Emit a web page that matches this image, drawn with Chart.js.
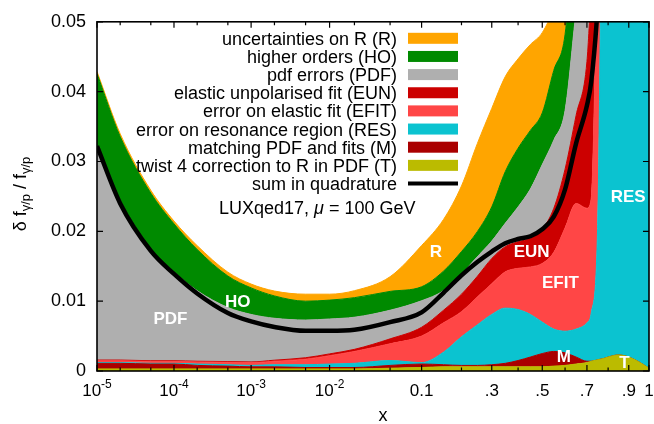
<!DOCTYPE html>
<html lang="en">
<head>
<meta charset="UTF-8">
<title>LUXqed17 photon PDF uncertainties</title>
<script src="https://cdn.jsdelivr.net/npm/chart.js"></script>
<style>
    html, body { margin: 0; padding: 0; background: #fff; }
    #wrap { position: relative; width: 654px; height: 424px; }
</style>
</head>
<body>
<div id="wrap"><canvas id="chart"></canvas></div>
<script>
// x positions of the samples (momentum fraction)
const xValues = [1e-5, 2e-5, 5e-5, 1e-4, 2e-4, 5e-4, 1e-3, 2e-3, 5e-3, 0.01, 0.02, 0.05,
    0.1, 0.15, 0.2, 0.25, 0.3, 0.35, 0.4, 0.45, 0.5, 0.55, 0.6, 0.65, 0.7, 0.72, 0.75,
    0.78, 0.8, 0.85, 0.9, 0.95, 1];

// stacked contributions, bottom to top
const twist4 = [0.0003, 0.0003, 0.0003, 0.0003, 0.0003, 0.0003, 0.0003, 0.0003, 0.0003, 0.0003, 0.0003, 0.0004,
    0.0005, 0.0006, 0.0006, 0.0006, 0.0006, 0.0006, 0.0006, 0.0006, 0.0006, 0.0007, 0.0008, 0.0010, 0.0012, 0.0014, 0.0016,
    0.0018, 0.0020, 0.0023, 0.0020, 0.0013, 0.0004];
const matching = [0.0008, 0.0008, 0.0007, 0.0007, 0.0005, 0.0004, 0.0003, 0.0003, 0.0002, 0.0002, 0.0002, 0.0004,
    0.0005, 0.0003, 0.0002, 0.0002, 0.0003, 0.0005, 0.0009, 0.0014, 0.0019, 0.0021, 0.0018, 0.0010, 0.0002, 0, 0,
    0, 0, 0, 0, 0, 0];
const resonance = [0.0001, 0.0001, 0.0001, 0.0001, 0.0002, 0.0002, 0.0002, 0.0003, 0.0004, 0.0005, 0.0006, 0.0007,
    0.0002, 0.0018, 0.0041, 0.0058, 0.0072, 0.0079, 0.0073, 0.0061, 0.0045, 0.0032, 0.0031, 0.0040, 0.0055, 0.0069, 0.0188,
    0.08, 0.08, 0.08, 0.08, 0.08, 0.08];
const elasticFit = [0.00027, 0.00027, 0.00027, 0.00027, 0.0003, 0.00035, 0.0004, 0.0005, 0.0008, 0.0012, 0.0017, 0.0024,
    0.0038, 0.0042, 0.0036, 0.0040, 0.0044, 0.0052, 0.0059, 0.0068, 0.0084, 0.0110, 0.0148, 0.0180, 0.0164, 0.0164, 0.04,
    0.01, 0.01, 0.01, 0.01, 0.01, 0.01];
const elasticUnpol = [0.0001, 0.0001, 0.0001, 0.0001, 0.0001, 0.0001, 0.0001, 0.00015, 0.0002, 0.00025, 0.0003, 0.0007,
    0.00126, 0.0018, 0.0025, 0.00295, 0.0036, 0.0036, 0.0038, 0.0041, 0.0049, 0.0063, 0.0084, 0.0126, 0.0210, 0.0300, 0.01,
    0.01, 0.01, 0.01, 0.01, 0.01, 0.01];
const pdfErrors = [0.0306, 0.0228, 0.0160, 0.0127, 0.0101, 0.00775, 0.0068, 0.0060, 0.0054, 0.0050, 0.0046, 0.0041,
    0.0038, 0.0028, 0.0029, 0.0028, 0.0025, 0.00335, 0.0050, 0.00705, 0.00925, 0.00975, 0.0084, 0.015, 0.02, 0.02, 0.01,
    0.01, 0.01, 0.01, 0.01, 0.01, 0.01];
const higherOrders = [0.0104, 0.0092, 0.0080, 0.0069, 0.0059, 0.0045, 0.0038, 0.0032, 0.0027, 0.0027, 0.0028, 0.0027,
    0.0020, 0.0028, 0.0032, 0.0036, 0.0049, 0.0074, 0.0084, 0.0084, 0.0074, 0.0100, 0.0109, 0.015, 0.02, 0.02, 0.01,
    0.01, 0.01, 0.01, 0.01, 0.01, 0.01];
const rUncert = [0.0003, 0.0004, 0.0004, 0.0004, 0.00055, 0.00055, 0.00055, 0.0007, 0.0010, 0.00085, 0.0010, 0.0021,
    0.0059, 0.0074, 0.0094, 0.0126, 0.0141, 0.0136, 0.0128, 0.0123, 0.0115, 0.0090, 0.01, 0.01, 0.01, 0.01, 0.01,
    0.01, 0.01, 0.01, 0.01, 0.01, 0.01];
// total, summed in quadrature (not stacked)
const quadSum = [0.0322, 0.0240, 0.0172, 0.0139, 0.0111, 0.0083, 0.0071, 0.0063, 0.00575, 0.00575, 0.0059, 0.0070,
    0.0084, 0.0112, 0.0137, 0.0156, 0.0171, 0.0183, 0.0189, 0.0193, 0.0203, 0.0221, 0.0260, 0.0326, 0.0380, 0.0414, 0.0520,
    0.07, 0.07, 0.07, 0.07, 0.07, 0.07];

// axis ticks
const xMajorTicks = [1e-5, 1e-4, 1e-3, 1e-2, 0.1, 0.3, 0.5, 0.7, 0.9, 1];
const xTickLabels = [['10', '-5'], ['10', '-4'], ['10', '-3'], ['10', '-2'], ['0.1'], ['.3'], ['.5'], ['.7'], ['.9'], ['1']];
const xMinorTicks = [2e-5, 5e-5, 2e-4, 5e-4, 2e-3, 5e-3, 0.02, 0.05, 0.2, 0.4, 0.6, 0.8];
const yTicks = [0, 0.01, 0.02, 0.03, 0.04, 0.05];
const yTickLabels = ['0', '0.01', '0.02', '0.03', '0.04', '0.05'];

// region labels, placed in data coordinates
const areaLabels = [
    { text: 'PDF', x: 9.0e-5, y: 0.0074 },
    { text: 'HO', x: 6.7e-4, y: 0.0098 },
    { text: 'R', x: 0.131, y: 0.0170 },
    { text: 'EUN', x: 0.455, y: 0.0170 },
    { text: 'EFIT', x: 0.579, y: 0.0125 },
    { text: 'RES', x: 0.897, y: 0.0248 },
    { text: 'M', x: 0.595, y: 0.0019 },
    { text: 'T', x: 0.879, y: 0.0011 }
];

const FONT = '"Liberation Sans", Arial, Helvetica, sans-serif';

// x axis used in the paper: ln(x) + 5x
const xf = v => Math.log(v) + 5 * v;

class LuxScale extends Chart.Scale {
    static id = 'lux';
    static defaults = {};
    determineDataLimits() {
        this.min = 1e-5;
        this.max = 1;
    }
    buildTicks() {
        return xMajorTicks.map(v => ({ value: v }));
    }
    configure() {
        super.configure();
        this._u0 = xf(this.min);
        this._u1 = xf(this.max);
    }
    getLabelForValue(v) {
        return String(v);
    }
    getPixelForValue(v) {
        return this.getPixelForDecimal((xf(v) - this._u0) / (this._u1 - this._u0));
    }
    getValueForPixel(p) {
        const d = this.getDecimalForPixel(p);
        const target = this._u0 + d * (this._u1 - this._u0);
        let lo = Math.log(this.min), hi = Math.log(this.max);
        for (let i = 0; i < 60; i++) {
            const mid = (lo + hi) / 2;
            if (xf(Math.exp(mid)) < target) lo = mid; else hi = mid;
        }
        return Math.exp((lo + hi) / 2);
    }
}
Chart.register(LuxScale);

function series(values) {
    return xValues.map((x, i) => ({ x: x, y: values[i] }));
}

function area(label, values, color, fill) {
    return {
        label: label,
        data: series(values),
        backgroundColor: color,
        borderColor: color,
        borderWidth: 1,
        pointRadius: 0,
        fill: fill,
        cubicInterpolationMode: 'monotone',
        stack: 'parts',
        clip: 0
    };
}

const datasets = [
    area('twist 4 correction to R in PDF (T)', twist4, '#bbbb00', 'origin'),
    area('matching PDF and fits (M)', matching, '#aa0000', '-1'),
    area('error on resonance region (RES)', resonance, '#0bc3d0', '-1'),
    area('error on elastic fit (EFIT)', elasticFit, '#ff4646', '-1'),
    area('elastic unpolarised fit (EUN)', elasticUnpol, '#cc0000', '-1'),
    area('pdf errors (PDF)', pdfErrors, '#afafaf', '-1'),
    area('higher orders (HO)', higherOrders, '#008a00', '-1'),
    area('uncertainties on R (R)', rUncert, '#ffa500', '-1'),
    {
        label: 'sum in quadrature',
        data: series(quadSum),
        borderColor: '#000',
        borderWidth: 4.5,
        pointRadius: 0,
        fill: false,
        cubicInterpolationMode: 'monotone',
        stack: 'sum',
        order: -1,
        clip: 0
    }
];
const legendOrder = [7, 6, 5, 4, 3, 2, 1, 0, 8];

const decor = {
    id: 'decor',
    afterDraw(chart) {
        const ctx = chart.ctx;
        const a = chart.chartArea;
        const xs = chart.scales.x, ys = chart.scales.y;
        ctx.save();

        // ticks, drawn inward on all four sides
        ctx.strokeStyle = '#000';
        ctx.lineWidth = 1.2;
        ctx.beginPath();
        xMajorTicks.forEach(v => {
            const p = xs.getPixelForValue(v);
            ctx.moveTo(p, a.bottom); ctx.lineTo(p, a.bottom - 6);
            ctx.moveTo(p, a.top); ctx.lineTo(p, a.top + 6);
        });
        xMinorTicks.forEach(v => {
            const p = xs.getPixelForValue(v);
            ctx.moveTo(p, a.bottom); ctx.lineTo(p, a.bottom - 3.5);
            ctx.moveTo(p, a.top); ctx.lineTo(p, a.top + 3.5);
        });
        yTicks.forEach(v => {
            const p = ys.getPixelForValue(v);
            ctx.moveTo(a.left, p); ctx.lineTo(a.left + 6, p);
            ctx.moveTo(a.right, p); ctx.lineTo(a.right - 6, p);
        });
        ctx.stroke();

        // frame
        ctx.lineWidth = 1.6;
        ctx.strokeRect(a.left, a.top, a.right - a.left, a.bottom - a.top);

        // x tick labels with superscript exponents
        ctx.fillStyle = '#000';
        ctx.textBaseline = 'alphabetic';
        ctx.textAlign = 'left';
        xMajorTicks.forEach((v, i) => {
            const parts = xTickLabels[i];
            const p = xs.getPixelForValue(v);
            ctx.font = '17px ' + FONT;
            const w0 = ctx.measureText(parts[0]).width;
            let w1 = 0;
            if (parts[1]) {
                ctx.font = '12px ' + FONT;
                w1 = ctx.measureText(parts[1]).width;
            }
            const x0 = p - (w0 + w1) / 2;
            ctx.font = '17px ' + FONT;
            ctx.fillText(parts[0], x0, 396);
            if (parts[1]) {
                ctx.font = '12px ' + FONT;
                ctx.fillText(parts[1], x0 + w0, 388);
            }
        });

        // axis titles
        ctx.font = '18px ' + FONT;
        ctx.textAlign = 'center';
        ctx.fillText('x', (a.left + a.right) / 2 + 10, 421);

        ctx.save();
        ctx.translate(26, 194);
        ctx.rotate(-Math.PI / 2);
        const pieces = [['δ f', 18, 0], ['γ/p', 13, 4], [' / f', 18, 0], ['γ/p', 13, 4]];
        let total = 0;
        pieces.forEach(pc => { ctx.font = pc[1] + 'px ' + FONT; total += ctx.measureText(pc[0]).width; });
        let cx = -total / 2;
        ctx.textAlign = 'left';
        pieces.forEach(pc => {
            ctx.font = pc[1] + 'px ' + FONT;
            ctx.fillText(pc[0], cx, pc[2]);
            cx += ctx.measureText(pc[0]).width;
        });
        ctx.restore();

        // area labels
        ctx.fillStyle = '#fff';
        ctx.font = 'bold 17px ' + FONT;
        ctx.textAlign = 'center';
        ctx.textBaseline = 'middle';
        areaLabels.forEach(l => {
            ctx.fillText(l.text, xs.getPixelForValue(l.x), ys.getPixelForValue(l.y));
        });

        // legend, inside the plot
        ctx.font = '18px ' + FONT;
        ctx.textAlign = 'right';
        ctx.textBaseline = 'alphabetic';
        legendOrder.forEach((di, row) => {
            const ds = chart.data.datasets[di];
            const cy = a.top + 16.5 + row * 18.15;
            ctx.fillStyle = '#000';
            ctx.fillText(ds.label, a.left + 300, cy + 6.5);
            if (ds.fill === false) {
                ctx.fillStyle = ds.borderColor;
                ctx.fillRect(a.left + 311, cy - 2, 50, 4);
            } else {
                ctx.fillStyle = ds.backgroundColor;
                ctx.fillRect(a.left + 311, cy - 5.5, 50, 11);
            }
        });

        // set label
        ctx.fillStyle = '#000';
        ctx.textAlign = 'left';
        ctx.font = '18px ' + FONT;
        let lx = a.left + 122;
        const ly = 214;
        ctx.fillText('LUXqed17, ', lx, ly);
        lx += ctx.measureText('LUXqed17, ').width;
        ctx.font = 'italic 18px ' + FONT;
        ctx.fillText('μ', lx, ly);
        lx += ctx.measureText('μ').width;
        ctx.font = '18px ' + FONT;
        ctx.fillText(' = 100 GeV', lx, ly);

        ctx.restore();
    }
};

Chart.defaults.font.family = FONT;
Chart.defaults.color = '#000';

new Chart(document.getElementById('chart'), {
    type: 'line',
    data: { datasets: datasets },
    options: {
        responsive: true,
        maintainAspectRatio: false,
        animation: false,
        events: [],
        layout: { padding: { top: 14, right: 5, left: 0, bottom: 0 } },
        plugins: { legend: { display: false }, tooltip: { enabled: false } },
        scales: {
            x: {
                type: 'lux',
                grid: { display: false, drawTicks: false },
                border: { display: false },
                ticks: { display: false },
                afterFit: s => { s.height = 53; }
            },
            y: {
                type: 'linear',
                stacked: true,
                min: 0,
                max: 0.05,
                grid: { display: false, drawTicks: false },
                border: { display: false },
                ticks: {
                    stepSize: 0.01,
                    padding: 11,
                    font: { size: 18 },
                    callback: (v, i) => yTickLabels[i]
                },
                afterFit: s => { s.width = 97; }
            }
        }
    },
    plugins: [decor]
});
</script>
</body>
</html>
